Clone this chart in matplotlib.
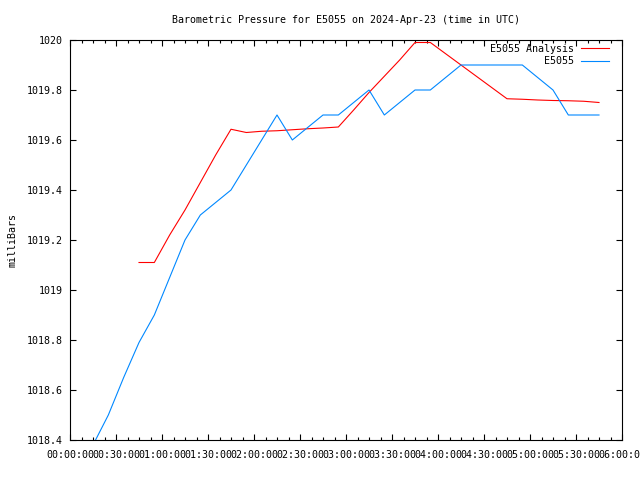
import matplotlib
matplotlib.use("Agg")
import matplotlib.pyplot as plt
from matplotlib.ticker import MultipleLocator, FuncFormatter

# minutes after 00:00 UTC
t_obs = [15, 25, 35, 45, 55, 65, 75, 85, 95, 105, 115, 125, 135, 145, 155, 165, 175,
         185, 195, 205, 215, 225, 235, 245, 255, 265, 275, 285, 295, 305, 315, 325, 335, 345]
p_obs = [1018.38, 1018.5, 1018.65, 1018.79, 1018.9, 1019.05, 1019.2, 1019.3, 1019.35, 1019.4,
         1019.5, 1019.6, 1019.7, 1019.6, 1019.65, 1019.7, 1019.7,
         1019.75, 1019.8, 1019.7, 1019.75, 1019.8, 1019.8, 1019.85, 1019.9, 1019.9, 1019.9,
         1019.9, 1019.9, 1019.85, 1019.8, 1019.7, 1019.7, 1019.7]

t_ana = [45, 55, 65, 75, 85, 95, 105, 115, 125, 135, 145, 155, 165, 175,
         185, 195, 205, 215, 225, 235, 245, 255, 265, 275, 285, 295, 305, 315, 325, 335, 345]
p_ana = [1019.11, 1019.11, 1019.22, 1019.32, 1019.43, 1019.54, 1019.643, 1019.63, 1019.635,
         1019.637, 1019.641, 1019.645, 1019.648, 1019.652,
         1019.72, 1019.79, 1019.855, 1019.92, 1019.99, 1019.99, 1019.945, 1019.90, 1019.855,
         1019.81, 1019.765, 1019.763, 1019.76, 1019.758, 1019.757, 1019.755, 1019.75]

title = "Barometric Pressure for E5055 on 2024-Apr-23 (time in UTC)"
font = "DejaVu Sans Mono"
fs = 7.2

fig = plt.figure(figsize=(6.4, 4.8), dpi=100)
ax = fig.add_axes([70 / 640, 40 / 480, 552 / 640, 400 / 480])

ax.plot(t_ana, p_ana, color="#ff0000", lw=0.8, label="E5055 Analysis")
ax.plot(t_obs, p_obs, color="#0088ff", lw=0.8, label="E5055")

ax.set_xlim(0, 360)
ax.set_ylim(1018.4, 1020)

ax.xaxis.set_major_locator(MultipleLocator(30))
ax.xaxis.set_minor_locator(MultipleLocator(7.5))
ax.yaxis.set_major_locator(MultipleLocator(0.2))
ax.xaxis.set_major_formatter(FuncFormatter(
    lambda v, pos: "%02d:%02d:00" % (int(round(v)) // 60, int(round(v)) % 60)))
ax.yaxis.set_major_formatter(FuncFormatter(lambda v, pos: "%g" % round(v, 1)))

ax.tick_params(which="both", direction="in", top=True, right=True, labelsize=fs, width=0.8)
ax.tick_params(axis="x", which="major", length=4, pad=7)
ax.tick_params(axis="x", which="minor", length=2)
ax.tick_params(axis="y", which="major", length=4.5, pad=5)
for lbl in ax.get_xticklabels() + ax.get_yticklabels():
    lbl.set_family(font)
for s in ax.spines.values():
    s.set_linewidth(0.8)

ax.set_ylabel("milliBars", fontsize=fs, family=font)
ax.yaxis.set_label_coords(-52 / 552, 0.5)
ax.text(0.5, 1 + 20 / 400, title, transform=ax.transAxes, ha="center", va="center",
        fontsize=fs, family=font)

ax.legend(loc="upper right", bbox_to_anchor=(539 / 552, 0.99), frameon=False,
          markerfirst=False, borderpad=0, borderaxespad=0, handlelength=2.8,
          handletextpad=0.7, labelspacing=0.25, prop={"family": font, "size": fs})

fig.savefig("out.png", dpi=100)
